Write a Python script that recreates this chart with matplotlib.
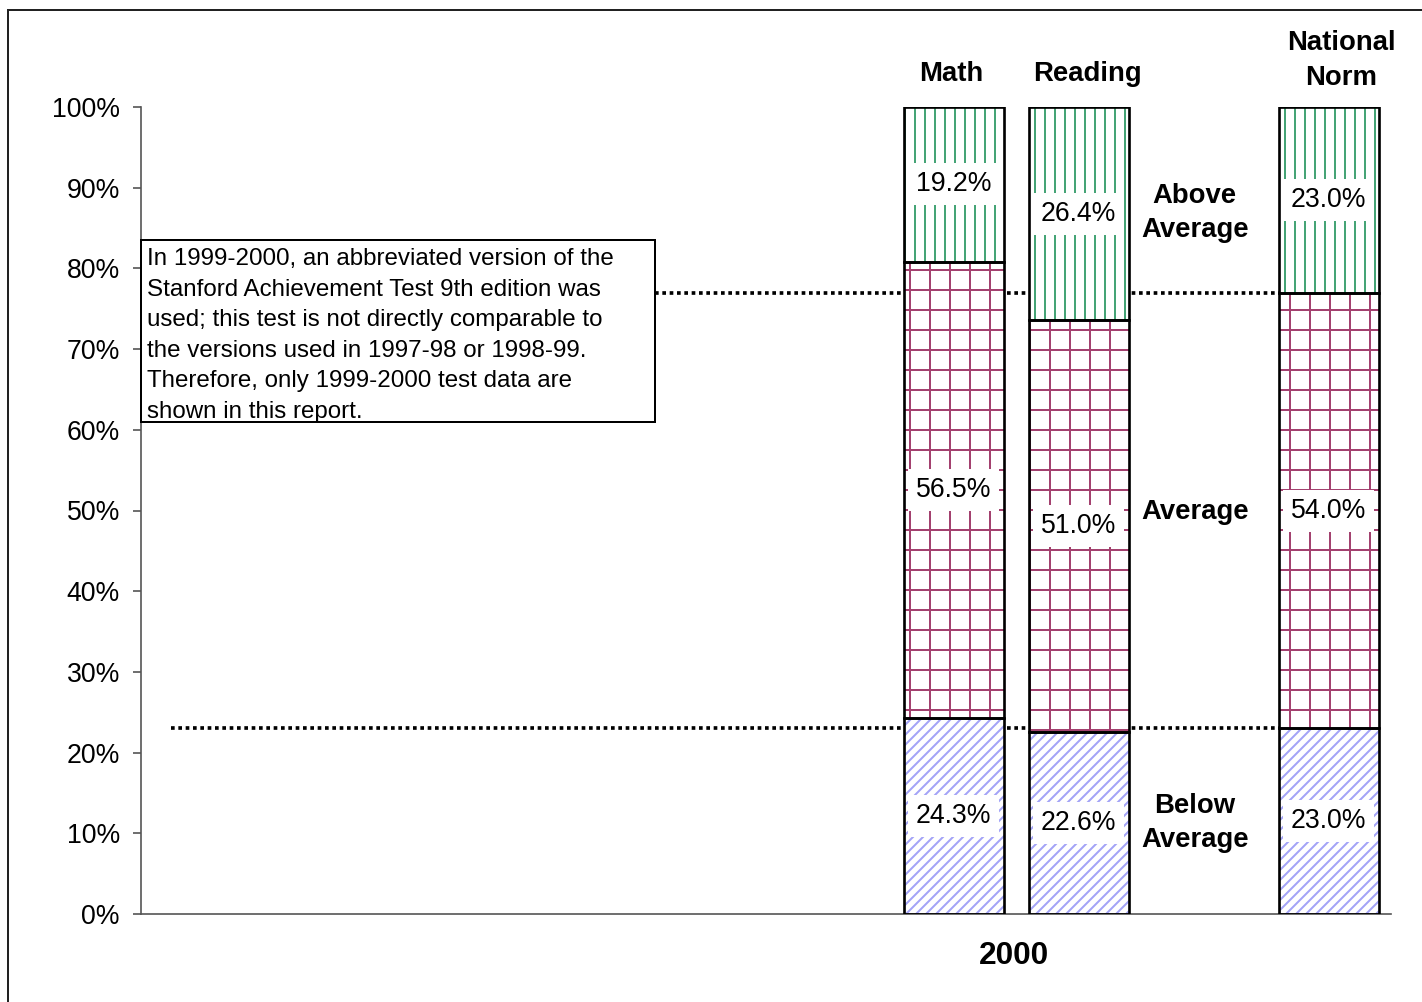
import numpy as np
import matplotlib
matplotlib.use("Agg")
import matplotlib.pyplot as plt
from matplotlib.patches import Rectangle

plt.rcParams['font.family'] = ['Liberation Sans', 'DejaVu Sans']
plt.rcParams['hatch.linewidth'] = 1.2

# data
groups = ["Math", "Reading", "National\nNorm"]
below = [24.3, 22.6, 23.0]
average = [56.5, 51.0, 54.0]
above = [19.2, 26.4, 23.0]
level_names = ["Below\nAverage", "Average", "Above\nAverage"]
yticks = [0, 10, 20, 30, 40, 50, 60, 70, 80, 90, 100]
year_label = "2000"
note = ("In 1999-2000, an abbreviated version of the\n"
        "Stanford Achievement Test 9th edition was\n"
        "used; this test is not directly comparable to\n"
        "the versions used in 1997-98 or 1998-99.\n"
        "Therefore, only 1999-2000 test data are\n"
        "shown in this report.")

# layout: gap between the school bars and the national bar
xpos = np.array([0, 1, 3])
width = 0.8

segments = [
    (below, '#a3a3f7', '////'),
    (average, '#a3416f', '+'),
    (above, '#45a476', '||'),
]

fig = plt.figure(figsize=(11.85, 8.35), dpi=120)
ax = fig.add_axes([141 / 1422, 88 / 1002, 1250 / 1422, 807 / 1002])

# frame around the whole chart
fig.patches.append(Rectangle((8 / 1422, -0.1), 1.2, 1.1 - 10 / 1002,
                             transform=fig.transFigure, fill=False,
                             edgecolor='#222222', linewidth=1.2))

# national norm reference lines (top of below, top of average)
nat_low = below[2]
nat_high = below[2] + average[2]
for yv in [nat_low, nat_high]:
    ax.plot([-6.26, xpos[2] - width / 2], [yv, yv], color='black',
            linestyle=(0, (1, 1)), linewidth=2.2, zorder=1)

bottom = np.zeros(len(groups))
for vals, col, hat in segments:
    vals = np.array(vals)
    ax.bar(xpos, vals, width, bottom=bottom, color='white', edgecolor=col,
           hatch=hat, linewidth=0, zorder=2)
    ax.bar(xpos, vals, width, bottom=bottom, fill=False, edgecolor='black',
           linewidth=1.6, zorder=3)
    for x, b, v in zip(xpos, bottom, vals):
        ax.text(x, b + v / 2, f"{v:.1f}%", ha='center', va='center',
                fontsize=16, zorder=4,
                bbox=dict(boxstyle='square,pad=0.3', facecolor='white',
                          edgecolor='none'))
    bottom = bottom + vals

# group labels over the bars
label_dx = [-0.02, 0.07, 0.1]
label_y = [102.5, 102.5, 102.0]
for x, dx, y, g in zip(xpos, label_dx, label_y, groups):
    ax.text(x + dx, y, g, ha='center', va='bottom', fontsize=16.5,
            fontweight='bold', linespacing=1.42)

# level labels between reading and national bars
mid = (xpos[1] + xpos[2]) / 2 - 0.07
ax.text(mid, 11.3, level_names[0], ha='center', va='center', fontsize=16.5,
        fontweight='bold', linespacing=1.38)
ax.text(mid, 49.8, level_names[1], ha='center', va='center', fontsize=16.5,
        fontweight='bold')
ax.text(mid, 86.9, level_names[2], ha='center', va='center', fontsize=16.5,
        fontweight='bold', linespacing=1.38)

# note box
ax.add_patch(Rectangle((0, 0.61), 0.411, 0.225, transform=ax.transAxes,
                       facecolor='white', edgecolor='black', linewidth=1.2,
                       zorder=5, clip_on=False))
ax.text(0.005, 0.825, note, transform=ax.transAxes, ha='left', va='top',
        fontsize=14.5, linespacing=1.5, zorder=6)

ax.set_xlim(-6.5, 3.5)
ax.set_ylim(0, 100)
ax.set_yticks(yticks)
ax.set_yticklabels([f"{t}%" for t in yticks], fontsize=16)
ax.set_xticks([])
ax.text(0.48, -0.033, year_label, transform=ax.get_xaxis_transform(),
        ha='center', va='top', fontsize=19, fontweight='bold')

for s in ['top', 'right']:
    ax.spines[s].set_visible(False)
for s in ['left', 'bottom']:
    ax.spines[s].set_color('#555555')
    ax.spines[s].set_linewidth(1.0)
ax.tick_params(axis='y', direction='out', length=4.8, width=1.0,
               color='#555555', pad=7.8)

fig.savefig("out.png", dpi=120)
